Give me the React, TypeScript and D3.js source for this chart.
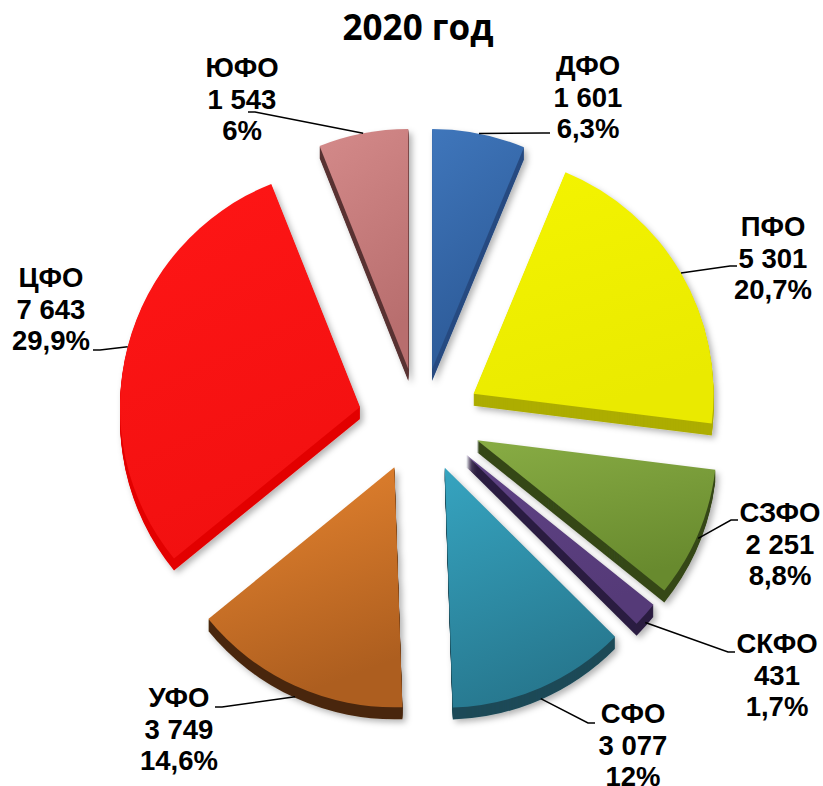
import React from "react";
import * as d3 from "d3";

const categories = ["ДФО", "ПФО", "СЗФО", "СКФО", "СФО", "УФО", "ЦФО", "ЮФО"];
const values = [1601, 5301, 2251, 431, 3077, 3749, 7643, 1543];
const valueLabels = ["1 601", "5 301", "2 251", "431", "3 077", "3 749", "7 643", "1 543"];
const percentLabels = ["6,3%", "20,7%", "8,8%", "1,7%", "12%", "14,6%", "29,9%", "6%"];
const title = "2020 год";

// styles
const topLight = ["#3f76bb", "#f4f400", "#88ac44", "#5f4385", "#36a4c0", "#e98630", "#ff1616", "#d48a8a"];
const topDark = ["#2c5996", "#eaea00", "#688a2e", "#553a78", "#27788f", "#ad5e1f", "#f21010", "#b86e6e"];
const sideColors = ["#284c82", "#adad00", "#37481a", "#2c1f42", "#1c4a58", "#4a280c", "#e30000", "#5a3232"];

// layout
const W = 823;
const H = 786;
const CX = 420;
const CY = 420;
const R = 240;
const EXPLODE_X = 62;
const EXPLODE_Y = 52;
const DEPTH = 12;
const labelLayout = [
  { cx: 588, y: 75, lx: 550, ly: 133 },
  { cx: 773, y: 236, lx: 737, ly: 266 },
  { cx: 780, y: 522, lx: 738, ly: 520 },
  { cx: 777, y: 653, lx: 735, ly: 652 },
  { cx: 633, y: 723, lx: 595, ly: 723 },
  { cx: 179, y: 707, lx: 215, ly: 707 },
  { cx: 51, y: 287, lx: 93, ly: 350 },
  { cx: 242, y: 77, lx: 248, ly: 112 },
];

export default function App() {
  const pie = d3.pie<number>().sort(null).value((d) => d)(values);
  const arc = d3.arc<d3.PieArcDatum<number>>().innerRadius(0).outerRadius(R);
  const slices = pie.map((p, i) => {
    const mid = (p.startAngle + p.endAngle) / 2;
    const ox = CX + EXPLODE_X * Math.sin(mid);
    const oy = CY - EXPLODE_Y * Math.cos(mid);
    const sx = ox + R * Math.sin(mid);
    const sy = oy - R * Math.cos(mid) + DEPTH * Math.max(0, -Math.cos(mid));
    return { p, i, mid, ox, oy, sx, sy, d: arc(p) as string };
  });
  const order = [...slices].sort((a, b) => a.oy - b.oy);
  const layers = d3.range(DEPTH, 0, -1);
  const font = "'Liberation Sans', Arial, sans-serif";

  return (
    <svg width={W} height={H} style={{ position: "absolute", left: 0, top: 0, background: "#fff" }}>
      <defs>
        <filter id="sh" x="-20%" y="-20%" width="140%" height="140%">
          <feDropShadow dx="3" dy="3" stdDeviation="3" floodColor="#000" floodOpacity="0.3" />
        </filter>
        {slices.map((s) => (
          <linearGradient key={s.i} id={`g${s.i}`} x1="0" y1="0" x2="0.3" y2="1">
            <stop offset="0" stopColor={topLight[s.i]} />
            <stop offset="1" stopColor={topDark[s.i]} />
          </linearGradient>
        ))}
      </defs>
      <rect width={W} height={H} fill="#fff" />
      <text x={418} y={40} textAnchor="middle" fontFamily="'Open Sans', sans-serif" fontWeight={700} fontSize={35} fill="#000">
        {title}
      </text>
      {order.map((s) => (
        <g key={`side${s.i}`} transform={`translate(${s.ox},${s.oy})`} filter="url(#sh)">
          {layers.map((k) => (
            <path key={k} d={s.d} transform={`translate(0,${k})`} fill={sideColors[s.i]} />
          ))}
        </g>
      ))}
      {order.map((s) => (
        <g key={`top${s.i}`} transform={`translate(${s.ox},${s.oy})`}>
          <path d={s.d} fill={`url(#g${s.i})`} />
        </g>
      ))}
      {slices.map((s) => {
        const L = labelLayout[s.i];
        const dir = Math.sign(s.sx - L.lx);
        const ex = L.lx + 7 * dir;
        return (
          <g key={`lab${s.i}`}>
            <path
              d={`M${s.sx},${s.sy}L${ex},${L.ly}L${L.lx},${L.ly}`}
              fill="none"
              stroke="#000"
              strokeWidth={1.5}
            />
            <text x={L.cx} y={L.y} textAnchor="middle" fontFamily={font} fontWeight={700} fontSize={27.5} fill="#000">
              <tspan x={L.cx} dy={0}>{categories[s.i]}</tspan>
              <tspan x={L.cx} dy={31.5}>{valueLabels[s.i]}</tspan>
              <tspan x={L.cx} dy={31.5}>{percentLabels[s.i]}</tspan>
            </text>
          </g>
        );
      })}
    </svg>
  );
}
